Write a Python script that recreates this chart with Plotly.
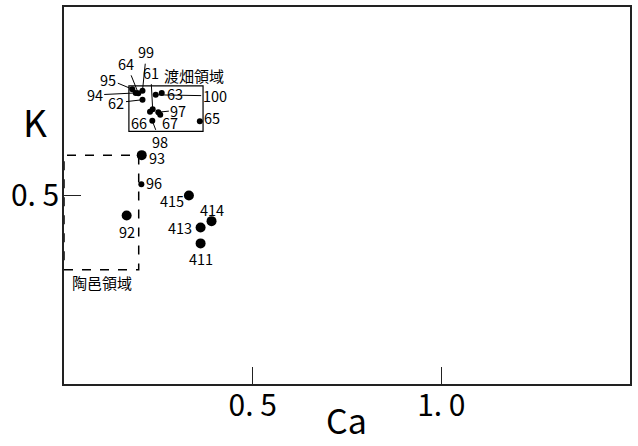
import plotly.graph_objects as go

# ---- data ----
small_labels = ["95", "94", "64", "99", "62", "100", "63", "61", "66", "97", "67", "98", "65", "96"]
small_ca = [0.181, 0.190, 0.197, 0.208, 0.208, 0.243, 0.259, 0.235, 0.228, 0.250, 0.255, 0.234, 0.360, 0.205]
small_k = [0.782, 0.772, 0.771, 0.778, 0.754, 0.767, 0.772, 0.729, 0.722, 0.721, 0.714, 0.698, 0.697, 0.530]

large_labels = ["93", "92", "415", "414", "413", "411"]
large_ca = [0.206, 0.166, 0.331, 0.391, 0.362, 0.362]
large_k = [0.607, 0.447, 0.500, 0.432, 0.415, 0.373]

watabata_box = [0.172, 0.3685, 0.670, 0.791]   # x0, x1, y0, y1
suemura_box = [0.0, 0.198, 0.303, 0.607]

x_ticks = [0.5, 1.0]
x_ticktext = ["0. 5", "1. 0"]
y_ticks = [0.5]
y_ticktext = ["0. 5"]

NUM_FONT = "Noto Sans CJK JP, sans-serif"
JP_FONT = "Noto Sans CJK JP, sans-serif"

# label offsets in pixels: (dx, dy_down, leader line?)
offsets = {
    "99": (4, -39, True), "64": (-12, -30, True), "61": (-2, -37, True),
    "95": (-24, -10, True), "94": (-41, 2, True), "62": (-26, 3, True),
    "63": (13, 1, False), "100": (59, 1, True), "97": (20, -2, True),
    "67": (10, 8, False), "66": (-11, 11, False), "98": (8, 21, True),
    "65": (12, -4, False), "93": (15, 2, False), "96": (13, -2, False),
    "92": (0, 16, False), "415": (-17, 5, False), "414": (0, -12, False),
    "413": (-21, 0, False), "411": (0, 15, False),
}

def numfont(size):
    return dict(family=NUM_FONT, size=size, color="black")

fig = go.Figure()
fig.add_trace(go.Scatter(x=small_ca, y=small_k, mode="markers",
                         marker=dict(color="black", size=6), hoverinfo="skip"))
fig.add_trace(go.Scatter(x=large_ca, y=large_k, mode="markers",
                         marker=dict(color="black", size=10), hoverinfo="skip"))

annotations = []
for labs, xs, ys in ((small_labels, small_ca, small_k), (large_labels, large_ca, large_k)):
    for lab, xv, yv in zip(labs, xs, ys):
        dx, dy, arrow = offsets[lab]
        if arrow:
            annotations.append(dict(x=xv, y=yv, xref="x", yref="y", text=lab,
                                    showarrow=True, ax=dx, ay=dy, arrowhead=0,
                                    arrowwidth=1, arrowcolor="black", standoff=0,
                                    font=numfont(14.5)))
        else:
            annotations.append(dict(x=xv, y=yv, xref="x", yref="y", text=lab,
                                    showarrow=False, xshift=dx, yshift=-dy,
                                    xanchor="center", yanchor="middle",
                                    font=numfont(14.5)))

annotations.append(dict(x=0.3446, y=0.818, xref="x", yref="y", text="渡畑領域",
                        showarrow=False, xanchor="center", yanchor="middle",
                        font=dict(family=JP_FONT, size=15, color="black")))
annotations.append(dict(x=0.1007, y=0.268, xref="x", yref="y", text="陶邑領域",
                        showarrow=False, xanchor="center", yanchor="middle",
                        font=dict(family=JP_FONT, size=15, color="black")))
annotations.append(dict(x=-0.052, y=0.698, xref="paper", yref="paper", text="K",
                        showarrow=False, xanchor="center", yanchor="middle",
                        font=numfont(37)))
annotations.append(dict(x=0.499, y=-0.094, xref="paper", yref="paper", text="Ca",
                        showarrow=False, xanchor="center", yanchor="middle",
                        font=numfont(34)))

fig.add_shape(type="rect", x0=watabata_box[0], x1=watabata_box[1], y0=watabata_box[2], y1=watabata_box[3],
              xref="x", yref="y", line=dict(color="black", width=1.2))
fig.add_shape(type="rect", x0=suemura_box[0], x1=suemura_box[1], y0=suemura_box[2], y1=suemura_box[3],
              xref="x", yref="y", line=dict(color="black", width=1.5, dash="dash"))

axis_common = dict(showgrid=False, zeroline=False, showline=True, mirror=True,
                   linecolor="#222", linewidth=1.5, ticks="inside", ticklen=17,
                   tickcolor="#222", tickwidth=1, automargin=False,
                   tickfont=numfont(30))
fig.update_xaxes(range=[0, 1.5], tickvals=x_ticks, ticktext=x_ticktext,
                 ticklabelstandoff=-6, **axis_common)
fig.update_yaxes(range=[0, 1.0], tickvals=y_ticks, ticktext=y_ticktext,
                 ticklabelstandoff=-3, **axis_common)

fig.update_layout(width=638, height=446, margin=dict(l=64, r=8, t=7, b=62),
                  plot_bgcolor="white", paper_bgcolor="white", showlegend=False,
                  annotations=annotations)

fig.write_html("out.html", config={"displayModeBar": False},
               post_script="document.body.style.margin='0';document.body.style.overflow='hidden';")
